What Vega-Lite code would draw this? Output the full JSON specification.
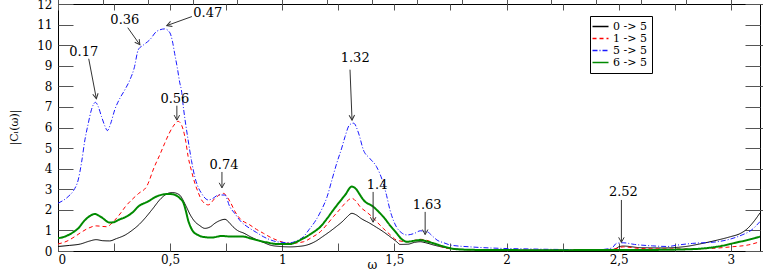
{
  "$schema": "https://vega.github.io/schema/vega-lite/v6.json",
  "width": 702,
  "height": 247,
  "autosize": {"type": "none"},
  "padding": {"left": 58, "top": 4, "right": 3, "bottom": 22},
  "background": "white",
  "config": {
    "view": {"stroke": "black", "strokeWidth": 1},
    "axis": {"grid": false, "domain": false, "tickColor": "#555", "labelFont": "DejaVu Serif", "labelFontSize": 12, "labelColor": "black", "titleFont": "DejaVu Serif", "titleFontWeight": "normal", "titleFontSize": 12, "titleColor": "black"},
    "legend": {"labelFont": "DejaVu Serif", "labelFontSize": 11, "labelColor": "black"}
  },
  "datasets": {
    "curves": [
      {"w": 0.00, "v": 0.22, "s": "0 -> 5"}, {"w": 0.05, "v": 0.27, "s": "0 -> 5"}, {"w": 0.10, "v": 0.34, "s": "0 -> 5"}, {"w": 0.14, "v": 0.48, "s": "0 -> 5"}, {"w": 0.17, "v": 0.55, "s": "0 -> 5"}, {"w": 0.20, "v": 0.50, "s": "0 -> 5"}, {"w": 0.23, "v": 0.49, "s": "0 -> 5"}, {"w": 0.26, "v": 0.60, "s": "0 -> 5"}, {"w": 0.30, "v": 0.78, "s": "0 -> 5"}, {"w": 0.33, "v": 1.00, "s": "0 -> 5"}, {"w": 0.36, "v": 1.27, "s": "0 -> 5"}, {"w": 0.39, "v": 1.62, "s": "0 -> 5"}, {"w": 0.42, "v": 2.02, "s": "0 -> 5"}, {"w": 0.46, "v": 2.56, "s": "0 -> 5"}, {"w": 0.49, "v": 2.80, "s": "0 -> 5"}, {"w": 0.51, "v": 2.84, "s": "0 -> 5"}, {"w": 0.54, "v": 2.74, "s": "0 -> 5"}, {"w": 0.57, "v": 2.20, "s": "0 -> 5"}, {"w": 0.59, "v": 1.75, "s": "0 -> 5"}, {"w": 0.61, "v": 1.43, "s": "0 -> 5"}, {"w": 0.63, "v": 1.25, "s": "0 -> 5"}, {"w": 0.655, "v": 1.10, "s": "0 -> 5"}, {"w": 0.68, "v": 1.18, "s": "0 -> 5"}, {"w": 0.70, "v": 1.35, "s": "0 -> 5"}, {"w": 0.72, "v": 1.47, "s": "0 -> 5"}, {"w": 0.745, "v": 1.54, "s": "0 -> 5"}, {"w": 0.76, "v": 1.42, "s": "0 -> 5"}, {"w": 0.78, "v": 1.18, "s": "0 -> 5"}, {"w": 0.80, "v": 1.00, "s": "0 -> 5"}, {"w": 0.83, "v": 0.86, "s": "0 -> 5"}, {"w": 0.86, "v": 0.68, "s": "0 -> 5"}, {"w": 0.89, "v": 0.53, "s": "0 -> 5"}, {"w": 0.92, "v": 0.40, "s": "0 -> 5"}, {"w": 0.945, "v": 0.29, "s": "0 -> 5"}, {"w": 0.99, "v": 0.22, "s": "0 -> 5"}, {"w": 1.035, "v": 0.20, "s": "0 -> 5"}, {"w": 1.07, "v": 0.22, "s": "0 -> 5"}, {"w": 1.11, "v": 0.29, "s": "0 -> 5"}, {"w": 1.15, "v": 0.48, "s": "0 -> 5"}, {"w": 1.18, "v": 0.70, "s": "0 -> 5"}, {"w": 1.21, "v": 0.93, "s": "0 -> 5"}, {"w": 1.24, "v": 1.18, "s": "0 -> 5"}, {"w": 1.27, "v": 1.45, "s": "0 -> 5"}, {"w": 1.29, "v": 1.67, "s": "0 -> 5"}, {"w": 1.31, "v": 1.83, "s": "0 -> 5"}, {"w": 1.33, "v": 1.75, "s": "0 -> 5"}, {"w": 1.35, "v": 1.59, "s": "0 -> 5"}, {"w": 1.39, "v": 1.35, "s": "0 -> 5"}, {"w": 1.42, "v": 1.15, "s": "0 -> 5"}, {"w": 1.45, "v": 0.94, "s": "0 -> 5"}, {"w": 1.48, "v": 0.70, "s": "0 -> 5"}, {"w": 1.51, "v": 0.45, "s": "0 -> 5"}, {"w": 1.525, "v": 0.32, "s": "0 -> 5"}, {"w": 1.56, "v": 0.33, "s": "0 -> 5"}, {"w": 1.59, "v": 0.42, "s": "0 -> 5"}, {"w": 1.615, "v": 0.45, "s": "0 -> 5"}, {"w": 1.64, "v": 0.40, "s": "0 -> 5"}, {"w": 1.675, "v": 0.29, "s": "0 -> 5"}, {"w": 1.71, "v": 0.20, "s": "0 -> 5"}, {"w": 1.75, "v": 0.13, "s": "0 -> 5"}, {"w": 1.80, "v": 0.08, "s": "0 -> 5"}, {"w": 1.90, "v": 0.05, "s": "0 -> 5"}, {"w": 2.00, "v": 0.04, "s": "0 -> 5"}, {"w": 2.10, "v": 0.04, "s": "0 -> 5"}, {"w": 2.20, "v": 0.04, "s": "0 -> 5"}, {"w": 2.30, "v": 0.04, "s": "0 -> 5"}, {"w": 2.40, "v": 0.05, "s": "0 -> 5"}, {"w": 2.48, "v": 0.08, "s": "0 -> 5"}, {"w": 2.50, "v": 0.20, "s": "0 -> 5"}, {"w": 2.52, "v": 0.24, "s": "0 -> 5"}, {"w": 2.60, "v": 0.16, "s": "0 -> 5"}, {"w": 2.70, "v": 0.15, "s": "0 -> 5"}, {"w": 2.80, "v": 0.22, "s": "0 -> 5"}, {"w": 2.86, "v": 0.34, "s": "0 -> 5"}, {"w": 2.94, "v": 0.53, "s": "0 -> 5"}, {"w": 3.00, "v": 0.70, "s": "0 -> 5"}, {"w": 3.04, "v": 0.84, "s": "0 -> 5"}, {"w": 3.07, "v": 1.05, "s": "0 -> 5"}, {"w": 3.10, "v": 1.40, "s": "0 -> 5"}, {"w": 3.13, "v": 1.85, "s": "0 -> 5"},

      {"w": 0.00, "v": 0.34, "s": "1 -> 5"}, {"w": 0.04, "v": 0.48, "s": "1 -> 5"}, {"w": 0.075, "v": 0.70, "s": "1 -> 5"}, {"w": 0.105, "v": 0.92, "s": "1 -> 5"}, {"w": 0.134, "v": 1.10, "s": "1 -> 5"}, {"w": 0.17, "v": 1.22, "s": "1 -> 5"}, {"w": 0.216, "v": 1.18, "s": "1 -> 5"}, {"w": 0.253, "v": 1.50, "s": "1 -> 5"}, {"w": 0.28, "v": 1.85, "s": "1 -> 5"}, {"w": 0.30, "v": 2.15, "s": "1 -> 5"}, {"w": 0.33, "v": 2.50, "s": "1 -> 5"}, {"w": 0.36, "v": 2.80, "s": "1 -> 5"}, {"w": 0.395, "v": 3.13, "s": "1 -> 5"}, {"w": 0.43, "v": 4.10, "s": "1 -> 5"}, {"w": 0.455, "v": 4.70, "s": "1 -> 5"}, {"w": 0.476, "v": 5.24, "s": "1 -> 5"}, {"w": 0.495, "v": 5.70, "s": "1 -> 5"}, {"w": 0.513, "v": 6.05, "s": "1 -> 5"}, {"w": 0.536, "v": 6.30, "s": "1 -> 5"}, {"w": 0.558, "v": 5.90, "s": "1 -> 5"}, {"w": 0.57, "v": 5.30, "s": "1 -> 5"}, {"w": 0.58, "v": 4.60, "s": "1 -> 5"}, {"w": 0.595, "v": 3.90, "s": "1 -> 5"}, {"w": 0.61, "v": 3.30, "s": "1 -> 5"}, {"w": 0.625, "v": 2.85, "s": "1 -> 5"}, {"w": 0.64, "v": 2.48, "s": "1 -> 5"}, {"w": 0.67, "v": 2.24, "s": "1 -> 5"}, {"w": 0.70, "v": 2.56, "s": "1 -> 5"}, {"w": 0.737, "v": 2.80, "s": "1 -> 5"}, {"w": 0.767, "v": 2.40, "s": "1 -> 5"}, {"w": 0.79, "v": 1.90, "s": "1 -> 5"}, {"w": 0.81, "v": 1.59, "s": "1 -> 5"}, {"w": 0.855, "v": 1.27, "s": "1 -> 5"}, {"w": 0.885, "v": 1.05, "s": "1 -> 5"}, {"w": 0.916, "v": 0.86, "s": "1 -> 5"}, {"w": 0.945, "v": 0.68, "s": "1 -> 5"}, {"w": 0.975, "v": 0.53, "s": "1 -> 5"}, {"w": 1.035, "v": 0.37, "s": "1 -> 5"}, {"w": 1.095, "v": 0.45, "s": "1 -> 5"}, {"w": 1.13, "v": 0.65, "s": "1 -> 5"}, {"w": 1.17, "v": 0.94, "s": "1 -> 5"}, {"w": 1.20, "v": 1.30, "s": "1 -> 5"}, {"w": 1.228, "v": 1.67, "s": "1 -> 5"}, {"w": 1.255, "v": 2.00, "s": "1 -> 5"}, {"w": 1.28, "v": 2.32, "s": "1 -> 5"}, {"w": 1.31, "v": 2.56, "s": "1 -> 5"}, {"w": 1.33, "v": 2.40, "s": "1 -> 5"}, {"w": 1.347, "v": 2.15, "s": "1 -> 5"}, {"w": 1.375, "v": 1.90, "s": "1 -> 5"}, {"w": 1.40, "v": 1.67, "s": "1 -> 5"}, {"w": 1.425, "v": 1.38, "s": "1 -> 5"}, {"w": 1.45, "v": 1.10, "s": "1 -> 5"}, {"w": 1.48, "v": 0.80, "s": "1 -> 5"}, {"w": 1.51, "v": 0.53, "s": "1 -> 5"}, {"w": 1.556, "v": 0.45, "s": "1 -> 5"}, {"w": 1.59, "v": 0.52, "s": "1 -> 5"}, {"w": 1.615, "v": 0.57, "s": "1 -> 5"}, {"w": 1.65, "v": 0.50, "s": "1 -> 5"}, {"w": 1.69, "v": 0.30, "s": "1 -> 5"}, {"w": 1.735, "v": 0.13, "s": "1 -> 5"}, {"w": 1.80, "v": 0.07, "s": "1 -> 5"}, {"w": 1.90, "v": 0.05, "s": "1 -> 5"}, {"w": 2.00, "v": 0.04, "s": "1 -> 5"}, {"w": 2.20, "v": 0.04, "s": "1 -> 5"}, {"w": 2.40, "v": 0.05, "s": "1 -> 5"}, {"w": 2.48, "v": 0.10, "s": "1 -> 5"}, {"w": 2.52, "v": 0.20, "s": "1 -> 5"}, {"w": 2.60, "v": 0.12, "s": "1 -> 5"}, {"w": 2.70, "v": 0.10, "s": "1 -> 5"}, {"w": 2.80, "v": 0.10, "s": "1 -> 5"}, {"w": 2.90, "v": 0.12, "s": "1 -> 5"}, {"w": 3.00, "v": 0.20, "s": "1 -> 5"}, {"w": 3.08, "v": 0.30, "s": "1 -> 5"}, {"w": 3.13, "v": 0.45, "s": "1 -> 5"},

      {"w": 0.00, "v": 2.32, "s": "5 -> 5"}, {"w": 0.045, "v": 2.64, "s": "5 -> 5"}, {"w": 0.07, "v": 2.95, "s": "5 -> 5"}, {"w": 0.09, "v": 3.45, "s": "5 -> 5"}, {"w": 0.105, "v": 4.30, "s": "5 -> 5"}, {"w": 0.12, "v": 5.40, "s": "5 -> 5"}, {"w": 0.135, "v": 6.20, "s": "5 -> 5"}, {"w": 0.149, "v": 6.86, "s": "5 -> 5"}, {"w": 0.167, "v": 7.22, "s": "5 -> 5"}, {"w": 0.18, "v": 7.00, "s": "5 -> 5"}, {"w": 0.194, "v": 6.53, "s": "5 -> 5"}, {"w": 0.21, "v": 6.05, "s": "5 -> 5"}, {"w": 0.22, "v": 5.85, "s": "5 -> 5"}, {"w": 0.235, "v": 6.20, "s": "5 -> 5"}, {"w": 0.253, "v": 6.86, "s": "5 -> 5"}, {"w": 0.275, "v": 7.40, "s": "5 -> 5"}, {"w": 0.298, "v": 7.83, "s": "5 -> 5"}, {"w": 0.32, "v": 8.30, "s": "5 -> 5"}, {"w": 0.34, "v": 8.90, "s": "5 -> 5"}, {"w": 0.358, "v": 9.78, "s": "5 -> 5"}, {"w": 0.38, "v": 10.00, "s": "5 -> 5"}, {"w": 0.41, "v": 10.27, "s": "5 -> 5"}, {"w": 0.44, "v": 10.67, "s": "5 -> 5"}, {"w": 0.476, "v": 10.79, "s": "5 -> 5"}, {"w": 0.499, "v": 10.60, "s": "5 -> 5"}, {"w": 0.51, "v": 10.20, "s": "5 -> 5"}, {"w": 0.52, "v": 9.60, "s": "5 -> 5"}, {"w": 0.532, "v": 8.90, "s": "5 -> 5"}, {"w": 0.543, "v": 8.17, "s": "5 -> 5"}, {"w": 0.55, "v": 7.83, "s": "5 -> 5"}, {"w": 0.56, "v": 6.90, "s": "5 -> 5"}, {"w": 0.58, "v": 5.40, "s": "5 -> 5"}, {"w": 0.595, "v": 4.40, "s": "5 -> 5"}, {"w": 0.61, "v": 3.60, "s": "5 -> 5"}, {"w": 0.625, "v": 3.10, "s": "5 -> 5"}, {"w": 0.64, "v": 2.80, "s": "5 -> 5"}, {"w": 0.67, "v": 2.48, "s": "5 -> 5"}, {"w": 0.69, "v": 2.55, "s": "5 -> 5"}, {"w": 0.715, "v": 2.72, "s": "5 -> 5"}, {"w": 0.744, "v": 2.72, "s": "5 -> 5"}, {"w": 0.766, "v": 2.15, "s": "5 -> 5"}, {"w": 0.79, "v": 1.80, "s": "5 -> 5"}, {"w": 0.81, "v": 1.50, "s": "5 -> 5"}, {"w": 0.855, "v": 1.10, "s": "5 -> 5"}, {"w": 0.885, "v": 0.90, "s": "5 -> 5"}, {"w": 0.915, "v": 0.70, "s": "5 -> 5"}, {"w": 0.945, "v": 0.55, "s": "5 -> 5"}, {"w": 0.976, "v": 0.45, "s": "5 -> 5"}, {"w": 1.035, "v": 0.40, "s": "5 -> 5"}, {"w": 1.065, "v": 0.50, "s": "5 -> 5"}, {"w": 1.095, "v": 0.70, "s": "5 -> 5"}, {"w": 1.12, "v": 1.05, "s": "5 -> 5"}, {"w": 1.15, "v": 1.50, "s": "5 -> 5"}, {"w": 1.175, "v": 2.00, "s": "5 -> 5"}, {"w": 1.20, "v": 2.64, "s": "5 -> 5"}, {"w": 1.22, "v": 3.40, "s": "5 -> 5"}, {"w": 1.243, "v": 4.27, "s": "5 -> 5"}, {"w": 1.265, "v": 5.00, "s": "5 -> 5"}, {"w": 1.28, "v": 5.56, "s": "5 -> 5"}, {"w": 1.30, "v": 6.13, "s": "5 -> 5"}, {"w": 1.318, "v": 6.21, "s": "5 -> 5"}, {"w": 1.34, "v": 5.73, "s": "5 -> 5"}, {"w": 1.362, "v": 4.90, "s": "5 -> 5"}, {"w": 1.39, "v": 4.50, "s": "5 -> 5"}, {"w": 1.42, "v": 4.10, "s": "5 -> 5"}, {"w": 1.45, "v": 3.30, "s": "5 -> 5"}, {"w": 1.465, "v": 2.70, "s": "5 -> 5"}, {"w": 1.48, "v": 2.00, "s": "5 -> 5"}, {"w": 1.495, "v": 1.50, "s": "5 -> 5"}, {"w": 1.51, "v": 1.15, "s": "5 -> 5"}, {"w": 1.53, "v": 0.90, "s": "5 -> 5"}, {"w": 1.556, "v": 0.78, "s": "5 -> 5"}, {"w": 1.59, "v": 0.86, "s": "5 -> 5"}, {"w": 1.615, "v": 0.98, "s": "5 -> 5"}, {"w": 1.645, "v": 0.94, "s": "5 -> 5"}, {"w": 1.67, "v": 0.72, "s": "5 -> 5"}, {"w": 1.69, "v": 0.53, "s": "5 -> 5"}, {"w": 1.72, "v": 0.40, "s": "5 -> 5"}, {"w": 1.75, "v": 0.29, "s": "5 -> 5"}, {"w": 1.84, "v": 0.20, "s": "5 -> 5"}, {"w": 1.97, "v": 0.13, "s": "5 -> 5"}, {"w": 2.10, "v": 0.10, "s": "5 -> 5"}, {"w": 2.20, "v": 0.08, "s": "5 -> 5"}, {"w": 2.30, "v": 0.07, "s": "5 -> 5"}, {"w": 2.42, "v": 0.07, "s": "5 -> 5"}, {"w": 2.47, "v": 0.15, "s": "5 -> 5"}, {"w": 2.49, "v": 0.37, "s": "5 -> 5"}, {"w": 2.52, "v": 0.40, "s": "5 -> 5"}, {"w": 2.57, "v": 0.32, "s": "5 -> 5"}, {"w": 2.65, "v": 0.25, "s": "5 -> 5"}, {"w": 2.716, "v": 0.22, "s": "5 -> 5"}, {"w": 2.77, "v": 0.30, "s": "5 -> 5"}, {"w": 2.83, "v": 0.37, "s": "5 -> 5"}, {"w": 2.94, "v": 0.45, "s": "5 -> 5"}, {"w": 3.01, "v": 0.62, "s": "5 -> 5"}, {"w": 3.05, "v": 0.78, "s": "5 -> 5"}, {"w": 3.09, "v": 1.00, "s": "5 -> 5"}, {"w": 3.13, "v": 1.43, "s": "5 -> 5"},

      {"w": 0.00, "v": 0.62, "s": "6 -> 5"}, {"w": 0.03, "v": 0.70, "s": "6 -> 5"}, {"w": 0.06, "v": 0.86, "s": "6 -> 5"}, {"w": 0.09, "v": 1.10, "s": "6 -> 5"}, {"w": 0.12, "v": 1.50, "s": "6 -> 5"}, {"w": 0.145, "v": 1.72, "s": "6 -> 5"}, {"w": 0.164, "v": 1.80, "s": "6 -> 5"}, {"w": 0.185, "v": 1.70, "s": "6 -> 5"}, {"w": 0.20, "v": 1.59, "s": "6 -> 5"}, {"w": 0.23, "v": 1.38, "s": "6 -> 5"}, {"w": 0.25, "v": 1.40, "s": "6 -> 5"}, {"w": 0.268, "v": 1.50, "s": "6 -> 5"}, {"w": 0.31, "v": 1.70, "s": "6 -> 5"}, {"w": 0.335, "v": 1.90, "s": "6 -> 5"}, {"w": 0.357, "v": 2.15, "s": "6 -> 5"}, {"w": 0.40, "v": 2.40, "s": "6 -> 5"}, {"w": 0.446, "v": 2.68, "s": "6 -> 5"}, {"w": 0.49, "v": 2.77, "s": "6 -> 5"}, {"w": 0.51, "v": 2.76, "s": "6 -> 5"}, {"w": 0.53, "v": 2.68, "s": "6 -> 5"}, {"w": 0.545, "v": 2.55, "s": "6 -> 5"}, {"w": 0.56, "v": 2.32, "s": "6 -> 5"}, {"w": 0.57, "v": 1.95, "s": "6 -> 5"}, {"w": 0.58, "v": 1.50, "s": "6 -> 5"}, {"w": 0.59, "v": 1.20, "s": "6 -> 5"}, {"w": 0.603, "v": 0.94, "s": "6 -> 5"}, {"w": 0.62, "v": 0.80, "s": "6 -> 5"}, {"w": 0.64, "v": 0.70, "s": "6 -> 5"}, {"w": 0.685, "v": 0.65, "s": "6 -> 5"}, {"w": 0.73, "v": 0.73, "s": "6 -> 5"}, {"w": 0.774, "v": 0.70, "s": "6 -> 5"}, {"w": 0.826, "v": 0.70, "s": "6 -> 5"}, {"w": 0.856, "v": 0.62, "s": "6 -> 5"}, {"w": 0.886, "v": 0.53, "s": "6 -> 5"}, {"w": 0.93, "v": 0.42, "s": "6 -> 5"}, {"w": 0.975, "v": 0.34, "s": "6 -> 5"}, {"w": 1.035, "v": 0.34, "s": "6 -> 5"}, {"w": 1.065, "v": 0.45, "s": "6 -> 5"}, {"w": 1.095, "v": 0.62, "s": "6 -> 5"}, {"w": 1.13, "v": 0.85, "s": "6 -> 5"}, {"w": 1.17, "v": 1.18, "s": "6 -> 5"}, {"w": 1.20, "v": 1.58, "s": "6 -> 5"}, {"w": 1.228, "v": 2.00, "s": "6 -> 5"}, {"w": 1.255, "v": 2.38, "s": "6 -> 5"}, {"w": 1.28, "v": 2.72, "s": "6 -> 5"}, {"w": 1.31, "v": 3.13, "s": "6 -> 5"}, {"w": 1.33, "v": 3.00, "s": "6 -> 5"}, {"w": 1.345, "v": 2.75, "s": "6 -> 5"}, {"w": 1.362, "v": 2.48, "s": "6 -> 5"}, {"w": 1.406, "v": 2.15, "s": "6 -> 5"}, {"w": 1.43, "v": 1.90, "s": "6 -> 5"}, {"w": 1.45, "v": 1.67, "s": "6 -> 5"}, {"w": 1.48, "v": 1.25, "s": "6 -> 5"}, {"w": 1.51, "v": 0.86, "s": "6 -> 5"}, {"w": 1.53, "v": 0.60, "s": "6 -> 5"}, {"w": 1.556, "v": 0.45, "s": "6 -> 5"}, {"w": 1.59, "v": 0.50, "s": "6 -> 5"}, {"w": 1.615, "v": 0.53, "s": "6 -> 5"}, {"w": 1.65, "v": 0.45, "s": "6 -> 5"}, {"w": 1.675, "v": 0.37, "s": "6 -> 5"}, {"w": 1.71, "v": 0.25, "s": "6 -> 5"}, {"w": 1.75, "v": 0.13, "s": "6 -> 5"}, {"w": 1.80, "v": 0.07, "s": "6 -> 5"}, {"w": 1.90, "v": 0.05, "s": "6 -> 5"}, {"w": 2.20, "v": 0.04, "s": "6 -> 5"}, {"w": 2.50, "v": 0.05, "s": "6 -> 5"}, {"w": 2.60, "v": 0.05, "s": "6 -> 5"}, {"w": 2.80, "v": 0.08, "s": "6 -> 5"}, {"w": 2.90, "v": 0.15, "s": "6 -> 5"}, {"w": 2.96, "v": 0.25, "s": "6 -> 5"}, {"w": 3.02, "v": 0.40, "s": "6 -> 5"}, {"w": 3.08, "v": 0.55, "s": "6 -> 5"}, {"w": 3.13, "v": 0.70, "s": "6 -> 5"}
    ],
    "ann": [
      {"label": "0.17", "tx": 0.115, "ty": 9.68, "x1": 0.137, "y1": 9.34, "x2": 0.171, "y2": 7.40},
      {"label": "0.36", "tx": 0.298, "ty": 11.24, "x1": 0.311, "y1": 10.85, "x2": 0.365, "y2": 10.02},
      {"label": "0.47", "tx": 0.668, "ty": 11.58, "x1": 0.597, "y1": 11.39, "x2": 0.485, "y2": 10.95},
      {"label": "0.56", "tx": 0.521, "ty": 7.40, "x1": 0.530, "y1": 7.06, "x2": 0.530, "y2": 6.36},
      {"label": "0.74", "tx": 0.740, "ty": 4.18, "x1": 0.731, "y1": 3.84, "x2": 0.731, "y2": 3.07},
      {"label": "1.32", "tx": 1.325, "ty": 9.39, "x1": 1.302, "y1": 8.81, "x2": 1.311, "y2": 6.36},
      {"label": "1.4", "tx": 1.423, "ty": 3.21, "x1": 1.405, "y1": 2.87, "x2": 1.405, "y2": 1.40},
      {"label": "1.63", "tx": 1.646, "ty": 2.24, "x1": 1.637, "y1": 1.90, "x2": 1.637, "y2": 0.80},
      {"label": "2.52", "tx": 2.521, "ty": 2.87, "x1": 2.512, "y1": 2.48, "x2": 2.512, "y2": 0.42}
    ]
  },
  "layer": [
    {
      "data": {"name": "curves"},
      "mark": {"type": "line", "interpolate": "monotone", "clip": true},
      "encoding": {
        "x": {"field": "w", "type": "quantitative", "scale": {"domain": [0, 3.13], "nice": false, "zero": false},
          "axis": {"orient": "bottom", "values": [0, 0.25, 0.5, 0.75, 1, 1.25, 1.5, 1.75, 2, 2.25, 2.5, 2.75, 3], "tickSize": -8, "labelPadding": 11, "labelExpr": "datum.value % 0.5 != 0 ? '' : (datum.value % 1 == 0 ? format(datum.value, 'd') : replace(format(datum.value, '.1f'), '.', ','))", "title": "ω", "titleX": 314, "titleY": 8, "titleBaseline": "top"}},
        "y": {"field": "v", "type": "quantitative", "scale": {"domain": [0, 12], "nice": false},
          "axis": {"orient": "left", "values": [0,1,2,3,4,5,6,7,8,9,10,11,12], "tickSize": -15, "labelPadding": 21, "title": "|Cₗ(ω)|", "titleX": -44, "titleY": 123, "titleAngle": -90, "titleBaseline": "middle", "titleFontSize": 11}},
        "color": {"field": "s", "type": "nominal", "scale": {"domain": ["0 -> 5", "1 -> 5", "5 -> 5", "6 -> 5"], "range": ["#000000", "#ff0000", "#1a1aff", "#008a00"]},
          "legend": {"orient": "none", "legendX": 532, "legendY": 12, "title": null, "strokeColor": "black", "fillColor": "white", "padding": 5, "rowPadding": 0, "symbolType": "M-2,0L2,0", "symbolSize": 64, "symbolStrokeWidth": 1.5, "labelOffset": 7, "cornerRadius": 0}},
        "strokeDash": {"field": "s", "type": "nominal", "scale": {"domain": ["0 -> 5", "1 -> 5", "5 -> 5", "6 -> 5"], "range": [[1, 0], [4, 3], [5, 2, 1, 2], [1, 0]]}, "legend": null},
        "strokeWidth": {"condition": {"test": "datum.s == '6 -> 5'", "value": 2}, "value": 1}
      }
    },
    {
      "data": {"name": "ann"},
      "mark": {"type": "rule", "color": "#333", "strokeWidth": 1},
      "encoding": {
        "x": {"field": "x1", "type": "quantitative"},
        "y": {"field": "y1", "type": "quantitative"},
        "x2": {"field": "x2"},
        "y2": {"field": "y2"}
      }
    },
    {
      "data": {"name": "ann"},
      "transform": [{"calculate": "-atan2((datum.x2 - datum.x1) * 224, (datum.y1 - datum.y2) * 20.55) * 180 / PI", "as": "ang"}],
      "mark": {"type": "point", "shape": "M-0.55,-1L0,0L0.55,-1", "filled": false, "stroke": "#333", "strokeWidth": 1, "size": 100, "opacity": 1},
      "encoding": {
        "x": {"field": "x2", "type": "quantitative"},
        "y": {"field": "y2", "type": "quantitative"},
        "angle": {"field": "ang", "type": "quantitative", "scale": null}
      }
    },
    {
      "data": {"name": "ann"},
      "mark": {"type": "text", "font": "DejaVu Serif", "fontSize": 13, "color": "black", "align": "center", "baseline": "middle"},
      "encoding": {
        "x": {"field": "tx", "type": "quantitative",
          "axis": {"orient": "top", "values": [0, 0.25, 0.5, 0.75, 1, 1.25, 1.5, 1.75, 2, 2.25, 2.5, 2.75, 3], "tickSize": -6, "labels": false, "title": null}},
        "y": {"field": "ty", "type": "quantitative",
          "axis": {"orient": "right", "values": [0,1,2,3,4,5,6,7,8,9,10,11,12], "tickSize": -15, "labels": false, "title": null}},
        "text": {"field": "label"}
      }
    }
  ]
}
